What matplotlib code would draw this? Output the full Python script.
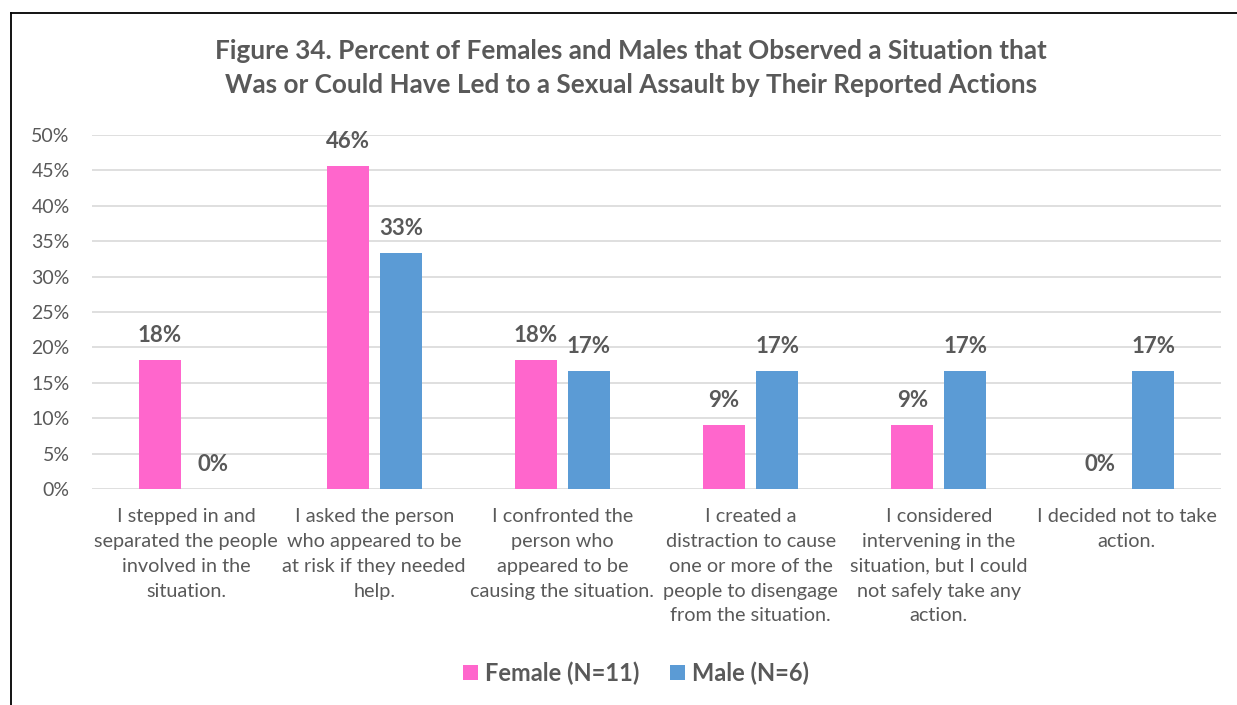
import numpy as np
import matplotlib.pyplot as plt
from matplotlib.lines import Line2D

plt.rcParams['font.family'] = ['Lato', 'DejaVu Sans']

categorias = [
    "I stepped in and\nseparated the people\ninvolved in the\nsituation.",
    "I asked the person\nwho appeared to be\nat risk if they needed\nhelp.",
    "I confronted the\nperson who\nappeared to be\ncausing the situation.",
    "I created a\ndistraction to cause\none or more of the\npeople to disengage\nfrom the situation.",
    "I considered\nintervening in the\nsituation, but I could\nnot safely take any\naction.",
    "I decided not to take\naction.",
]
feminino = [18.2, 45.6, 18.2, 9.1, 9.1, 0.0]
masculino = [0.0, 33.3, 16.7, 16.7, 16.7, 16.7]
rotulo_fem = "Female (N=11)"
rotulo_masc = "Male (N=6)"
titulo = ("Figure 34. Percent of Females and Males that Observed a Situation that\n"
          "Was or Could Have Led to a Sexual Assault by Their Reported Actions")

cor_fem = "#FF66CC"
cor_masc = "#5B9BD5"
cinza = "#595959"

fig = plt.figure(figsize=(12.37, 7.05), dpi=100)
ax = fig.add_axes([92 / 1237, 1 - 489 / 705, (1221 - 92) / 1237, (489 - 135) / 705])

x = np.arange(len(categorias))
largura = 0.223
desloc = 0.141

barras_f = ax.bar(x - desloc, feminino, largura, color=cor_fem, label=rotulo_fem, zorder=3)
barras_m = ax.bar(x + desloc, masculino, largura, color=cor_masc, label=rotulo_masc, zorder=3)

for barras in (barras_f, barras_m):
    ax.bar_label(barras, labels=[f"{v:.0f}%" for v in barras.datavalues],
                 padding=10, fontsize=16, fontweight='bold', color=cinza)

ax.set_xlim(-0.5, len(categorias) - 0.5)
ax.set_ylim(0, 50)
ax.set_yticks(np.arange(0, 51, 5))
ax.set_yticklabels([f"{v}%" for v in range(0, 51, 5)], fontsize=14, color=cinza)
ax.set_xticks(x)
ax.set_xticklabels(categorias, fontsize=14.3, color=cinza, linespacing=1.55)
ax.tick_params(axis='both', length=0)
ax.tick_params(axis='y', pad=16)
ax.tick_params(axis='x', pad=14)
ax.grid(axis='y', color='#D9D9D9', linewidth=1.2, zorder=0)
for lado in ax.spines.values():
    lado.set_visible(False)

fig.text(631 / 1237, 1 - 68 / 705, titulo, ha='center', va='center',
         fontsize=18.8, fontweight='bold', color=cinza, linespacing=1.5)

leg = fig.legend(loc='center', bbox_to_anchor=(636 / 1237, 1 - 673 / 705), ncol=2,
                 frameon=False, handlelength=0.62, handleheight=0.62,
                 handletextpad=0.3, columnspacing=1.3,
                 prop={'size': 17, 'weight': 'bold'})
for t in leg.get_texts():
    t.set_color(cinza)

# moldura externa
fig.add_artist(Line2D([10.5 / 1237, 10.5 / 1237], [0, 1 - 13 / 705],
                      transform=fig.transFigure, color='black', linewidth=1.3))
fig.add_artist(Line2D([10.5 / 1237, 1], [1 - 13 / 705, 1 - 13 / 705],
                      transform=fig.transFigure, color='black', linewidth=1.3))

fig.savefig("out.png", dpi=100)
